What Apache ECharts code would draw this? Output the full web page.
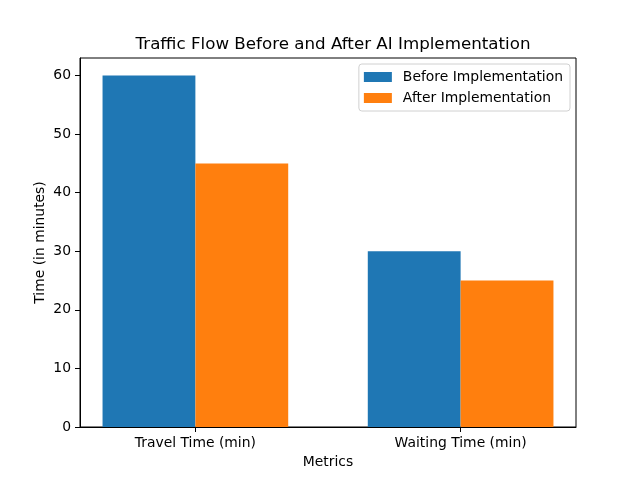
<!DOCTYPE html>
<html><head><meta charset="utf-8">
<script src="https://cdn.jsdelivr.net/npm/echarts@6/dist/echarts.min.js"></script>
<style>html,body{margin:0;padding:0;background:#fff}#c{width:640px;height:480px}</style>
</head><body><div id="c"></div>
<script>
const categories = ['Travel Time (min)', 'Waiting Time (min)'];
const beforeValues = [60, 30];
const afterValues = [45, 25];
const yTicks = [0, 10, 20, 30, 40, 50, 60];
const seriesNames = ['Before Implementation', 'After Implementation'];

const font = 'DejaVu Sans';
const chart = echarts.init(document.getElementById('c'), null, {renderer: 'canvas'});
const pxPerUnit = 496 / 1.87;
const barW = 0.35 * pxPerUnit;
chart.setOption({
  animation: false,
  textStyle: {fontFamily: font},
  title: {
    text: 'Traffic Flow Before and After AI Implementation',
    left: 328, textAlign: 'center', top: 31,
    textStyle: {fontFamily: font, fontSize: 16.7, fontWeight: 'normal', color: '#000'}
  },
  legend: {
    orient: 'vertical', right: 70, top: 64,
    data: seriesNames,
    icon: 'rect', itemWidth: 28, itemHeight: 10, itemGap: 7,
    padding: [6, 7, 6, 5],
    borderColor: '#d0d0d0', borderWidth: 1, borderRadius: 3,
    backgroundColor: 'rgba(255,255,255,0.8)',
    textStyle: {fontFamily: font, fontSize: 13.9, color: '#000', padding: [0, 0, 0, 6]}
  },
  grid: {left: 80, right: 64, top: 58, bottom: 53, show: true, borderColor: '#000', borderWidth: 1, backgroundColor: 'transparent'},
  xAxis: {
    type: 'value', min: -0.435, max: 1.435,
    name: 'Metrics', nameLocation: 'middle', nameGap: 28, nameMoveOverlap: false,
    nameTextStyle: {fontFamily: font, fontSize: 13.9, color: '#000'},
    axisLine: {show: true, onZero: false, lineStyle: {color: '#000'}},
    axisTick: {show: true, length: 5, lineStyle: {color: '#000'}, customValues: [0, 1]},
    axisLabel: {fontFamily: font, fontSize: 13.9, color: '#000', margin: 9, customValues: [0, 1],
      formatter: v => categories[Math.round(v)] || ''},
    splitLine: {show: false}
  },
  yAxis: {
    type: 'value', min: 0, max: 63,
    name: 'Time (in minutes)', nameLocation: 'middle', nameGap: 33, nameMoveOverlap: false,
    nameTextStyle: {fontFamily: font, fontSize: 13.9, color: '#000'},
    axisLine: {show: true, onZero: false, lineStyle: {color: '#000'}},
    axisTick: {show: true, length: 5, lineStyle: {color: '#000'}, customValues: yTicks},
    axisLabel: {fontFamily: font, fontSize: 13.9, color: '#000', margin: 9, customValues: yTicks},
    splitLine: {show: false}
  },
  series: [
    {name: seriesNames[0], type: 'bar', data: beforeValues.map((v, i) => [i, v]), barWidth: barW, barGap: '0%', itemStyle: {color: '#1f77b4'}},
    {name: seriesNames[1], type: 'bar', data: afterValues.map((v, i) => [i, v]), barWidth: barW, barGap: '0%', itemStyle: {color: '#ff7f0e'}}
  ]
});
</script></body></html>
